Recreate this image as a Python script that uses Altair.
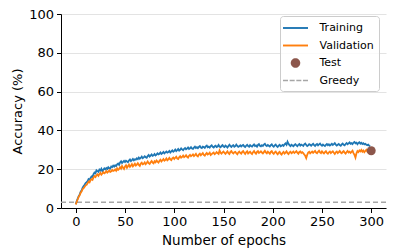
import altair as alt
import pandas as pd

epochs = list(range(300))

train_acc = [
    2.0, 3.6, 4.9, 6.1, 7.0, 8.4, 9.1, 10.5, 11.3, 12.0,
    12.9, 13.3, 13.8, 14.9, 14.6, 15.5, 16.3, 16.0, 17.4, 18.3,
    17.9, 19.4, 19.0, 18.6, 19.8, 19.3, 20.2, 19.0, 19.7, 20.4,
    19.9, 20.6, 20.1, 21.0, 20.5, 20.3, 21.4, 21.1, 21.8, 21.3,
    22.0, 21.6, 22.5, 22.9, 22.2, 23.5, 24.1, 23.2, 23.8, 24.3,
    23.7, 24.4, 24.0, 23.6, 24.5, 25.0, 24.2, 24.7, 25.3, 24.6,
    25.1, 24.9, 25.6, 25.2, 26.0, 25.4, 25.8, 26.5, 25.7, 26.1,
    26.7, 26.2, 25.9, 26.8, 27.3, 26.5, 27.0, 27.6, 26.9, 27.2,
    27.8, 27.1, 27.5, 28.2, 27.7, 28.0, 28.6, 27.9, 28.3, 28.9,
    28.2, 28.7, 29.1, 28.5, 28.8, 29.4, 28.6, 29.2, 29.7, 29.0,
    29.5, 30.1, 29.3, 29.8, 30.4, 29.6, 30.0, 30.7, 30.2, 29.8,
    30.5, 30.9, 30.3, 30.6, 31.2, 30.4, 30.8, 31.4, 30.7, 30.5,
    31.1, 31.6, 30.9, 31.3, 30.8, 31.5, 31.9, 31.2, 30.9, 31.6,
    31.4, 31.0, 31.8, 32.2, 31.3, 31.6, 31.1, 31.9, 32.3, 31.5,
    31.2, 31.8, 32.1, 31.4, 31.7, 32.5, 31.6, 31.3, 32.0, 32.4,
    31.7, 31.4, 32.2, 31.8, 31.2, 32.0, 32.6, 31.9, 31.5, 32.1,
    32.4, 31.6, 31.9, 32.7, 32.0, 31.5, 31.8, 32.3, 31.7, 32.2,
    32.5, 31.8, 31.4, 32.1, 32.6, 31.9, 31.6, 32.4, 32.0, 31.7,
    32.3, 32.8, 31.9, 32.2, 31.6, 32.5, 32.9, 32.1, 31.8, 32.4,
    32.0, 32.7, 33.1, 32.3, 31.9, 32.5, 32.1, 31.7, 32.4, 32.8,
    32.0, 31.6, 32.3, 32.7, 31.9, 31.5, 32.2, 32.6, 31.8, 32.1,
    32.5, 32.0, 32.8, 33.3, 32.6, 34.2, 33.1, 32.4, 31.9, 32.6,
    32.2, 31.8, 32.5, 32.9, 32.3, 31.9, 32.6, 33.0, 32.2, 32.7,
    32.4, 32.0, 32.8, 33.2, 32.5, 31.9, 32.3, 32.9, 32.6, 32.1,
    32.7, 33.1, 32.4, 32.0, 32.6, 33.0, 32.3, 32.8, 33.2, 32.5,
    32.1, 32.7, 32.3, 31.9, 32.5, 33.0, 32.4, 32.8, 32.2, 32.6,
    33.1, 32.5, 32.9, 33.4, 32.7, 32.2, 32.6, 33.0, 32.4, 32.1,
    32.8, 33.2, 32.6, 32.3, 33.0, 33.5, 32.9, 33.3, 33.8, 33.1,
    33.4, 32.9, 33.7, 34.0, 33.3, 33.6, 32.9, 33.5, 33.9, 33.2,
    33.6, 33.0, 33.4, 32.8, 33.1, 32.6, 32.4, 32.7, 32.1, 31.9,
]

val_acc = [
    1.8, 3.3, 4.5, 5.8, 6.6, 7.9, 8.6, 9.8, 10.2, 10.9,
    11.7, 12.0, 12.8, 13.6, 13.2, 14.4, 14.9, 14.5, 15.8, 16.4,
    15.9, 16.8, 17.3, 16.6, 17.5, 18.1, 17.2, 17.8, 18.5, 17.9,
    18.3, 19.0, 18.2, 18.7, 19.4, 18.6, 18.9, 19.6, 19.1, 19.3,
    19.9, 19.2, 20.4, 19.7, 20.2, 21.0, 20.3, 21.6, 20.8, 20.1,
    21.4, 22.0, 20.7, 21.5, 22.3, 21.2, 21.8, 22.6, 21.5, 22.1,
    22.8, 21.9, 22.4, 23.1, 22.2, 21.7, 22.9, 23.4, 22.5, 22.8,
    23.5, 22.6, 23.2, 24.0, 23.1, 22.7, 23.6, 24.2, 23.4, 23.0,
    24.1, 23.6, 24.5, 23.9, 23.4, 24.3, 24.9, 24.0, 24.6, 25.2,
    24.4, 24.8, 25.5, 24.6, 25.0, 25.8, 25.1, 24.7, 25.6, 26.0,
    25.3, 25.9, 26.4, 25.5, 25.2, 26.1, 26.7, 25.9, 26.3, 27.0,
    26.2, 26.6, 27.2, 26.4, 26.0, 26.9, 27.4, 26.7, 27.1, 27.6,
    26.8, 27.3, 27.9, 27.0, 26.6, 27.5, 28.0, 27.2, 27.7, 28.3,
    27.4, 27.0, 27.8, 28.4, 27.6, 27.9, 28.5, 27.3, 27.8, 28.2,
    28.6, 27.7, 28.1, 28.8, 28.3, 27.9, 29.6, 28.5, 28.0, 28.7,
    29.1, 28.4, 27.9, 28.6, 29.2, 28.3, 27.8, 28.9, 29.3, 28.5,
    28.1, 28.8, 29.0, 28.2, 27.7, 28.6, 29.1, 28.4, 28.0, 28.9,
    29.3, 28.5, 27.9, 28.7, 29.2, 28.1, 28.6, 29.0, 28.3, 27.8,
    28.8, 29.4, 28.5, 28.0, 28.9, 29.3, 28.4, 28.7, 29.2, 28.6,
    28.1, 28.8, 29.5, 28.7, 28.2, 29.0, 28.5, 28.0, 28.9, 29.3,
    28.4, 27.9, 28.7, 29.1, 28.2, 27.7, 28.5, 28.9, 28.0, 27.5,
    28.4, 28.9, 28.1, 28.6, 29.2, 28.3, 27.8, 28.7, 29.0, 28.2,
    28.6, 29.1, 28.4, 28.8, 29.3, 28.5, 28.0, 28.9, 29.2, 28.4,
    28.8, 28.3, 27.6, 26.9, 25.7, 27.4, 28.6, 29.0, 28.2, 28.7,
    29.1, 28.4, 28.9, 29.4, 28.6, 28.2, 29.0, 29.5, 28.7, 28.3,
    29.2, 28.6, 28.1, 28.8, 29.3, 28.4, 28.0, 28.7, 29.1, 28.3,
    28.8, 29.2, 28.5, 27.9, 28.7, 29.1, 28.3, 28.8, 29.4, 28.6,
    28.2, 28.9, 29.3, 28.5, 28.0, 28.8, 29.4, 28.6, 29.0, 28.4,
    28.9, 29.5, 28.3, 27.4, 26.0, 28.2, 29.3, 28.8, 29.7, 29.2,
    29.9, 29.0, 29.6, 28.8, 29.4, 30.0, 29.1, 28.7, 29.3, 29.0,
]

test_epoch = [300]
test_acc = [29.5]
greedy_acc = [3.0]

legend_names = ["Training", "Validation", "Test", "Greedy"]
legend_colors = ["#1f77b4", "#ff7f0e", "#8c564b", "#a6a6a6"]
legend_shapes = [
    "M-1.786,-0.136L1.786,-0.136L1.786,0.136L-1.786,0.136Z",
    "M-1.786,-0.136L1.786,-0.136L1.786,0.136L-1.786,0.136Z",
    "M0.68,0A0.68,0.68,0,1,1,-0.68,0A0.68,0.68,0,1,1,0.68,0Z",
    "M-1.786,-0.1L-1.072,-0.1L-1.072,0.1L-1.786,0.1Z"
    "M-0.834,-0.1L-0.12,-0.1L-0.12,0.1L-0.834,0.1Z"
    "M0.118,-0.1L0.832,-0.1L0.832,0.1L0.118,0.1Z"
    "M1.07,-0.1L1.784,-0.1L1.784,0.1L1.07,0.1Z",
]

FONT = "DejaVu Sans"

train_df = pd.DataFrame({"epoch": epochs, "acc": train_acc})
val_df = pd.DataFrame({"epoch": epochs, "acc": val_acc})
test_df = pd.DataFrame({"epoch": test_epoch, "acc": test_acc})
greedy_df = pd.DataFrame({"acc": greedy_acc})
legend_df = pd.DataFrame({"series": legend_names,
                          "epoch": [None] * 4, "acc": [None] * 4})

x_scale = alt.Scale(domain=[-15, 315], nice=False, zero=False)
y_scale = alt.Scale(domain=[0, 100], nice=False)

x_enc = alt.X("epoch:Q", scale=x_scale,
              axis=alt.Axis(title="Number of epochs", values=[0, 50, 100, 150, 200, 250, 300],
                            grid=False, labelFlush=False, labelOverlap=False))
y_enc = alt.Y("acc:Q", scale=y_scale,
              axis=alt.Axis(title="Accuracy (%)", values=[0, 20, 40, 60, 80, 100],
                            grid=True, labelFlush=False, labelOverlap=False, format="d"))

greedy = alt.Chart(greedy_df).mark_rule(
    color="#a6a6a6", strokeDash=[5, 3], strokeWidth=1.5
).encode(y=y_enc)

train = alt.Chart(train_df).mark_line(color="#1f77b4", strokeWidth=1.8).encode(x=x_enc, y=y_enc)
val = alt.Chart(val_df).mark_line(color="#ff7f0e", strokeWidth=1.8).encode(x=x_enc, y=y_enc)
test = alt.Chart(test_df).mark_circle(color="#8c564b", size=80, opacity=1).encode(x=x_enc, y=y_enc)

legend_layer = alt.Chart(legend_df).mark_point(filled=True, opacity=1, size=196).encode(
    x=x_enc,
    y=y_enc,
    color=alt.Color("series:N", scale=alt.Scale(domain=legend_names, range=legend_colors),
                    legend=alt.Legend(
                        title=None, orient="none", legendX=219, legendY=2,
                        padding=5, symbolSize=196, symbolStrokeWidth=0,
                        symbolOffset=3.5, labelOffset=17, rowPadding=5.5,
                        labelFont=FONT, labelFontSize=11, labelColor="black",
                        fillColor="rgba(255,255,255,0.8)", strokeColor="#cccccc",
                        cornerRadius=3, symbolOpacity=1)),
    shape=alt.Shape("series:N", scale=alt.Scale(domain=legend_names, range=legend_shapes),
                    legend=alt.Legend(title=None)),
)

chart = alt.layer(greedy, train, val, test, legend_layer).properties(
    width=325, height=194,
    autosize=alt.AutoSizeParams(type="none"),
    padding={"left": 53, "top": 6, "right": 10, "bottom": 42},
).configure_view(stroke=None).configure_axis(
    domainColor="black", domainWidth=1, tickColor="black", tickSize=4.5, tickWidth=1,
    labelFont=FONT, labelFontSize=13, labelColor="black", labelPadding=3,
    titleFont=FONT, titleFontSize=13.5, titleFontWeight="normal", titleColor="black",
    gridColor="#e3e3e3", gridWidth=1,
).configure_axisY(titlePadding=4, titleFontSize=13).configure_axisX(titlePadding=5)

chart.save("out.html", embed_options={"renderer": "svg", "actions": False})
